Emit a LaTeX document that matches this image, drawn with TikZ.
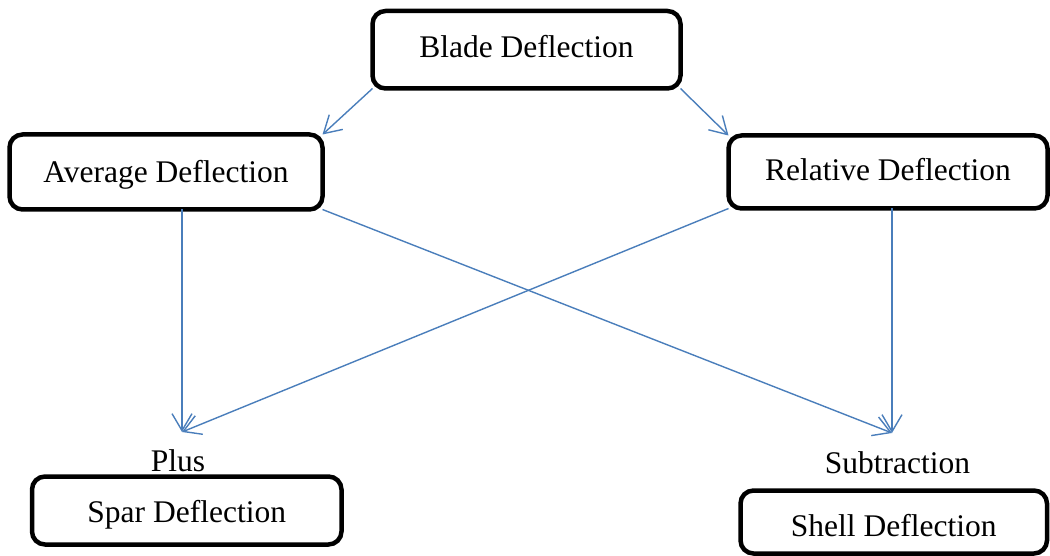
\documentclass[tikz,border=0pt]{standalone}
\usepackage{fontspec}
\setmainfont{Liberation Serif}
\usetikzlibrary{arrows.meta}
\definecolor{linkblue}{HTML}{4A7EBB}
\begin{document}
\begin{tikzpicture}[x=1pt,y=-1pt,
  box/.style={draw=black, line width=4.5pt, rounded corners=13pt,
    inner sep=0pt, outer sep=0pt, text depth=0pt,
    font=\fontsize{31.5}{36}\selectfont},
  optext/.style={inner sep=0pt, anchor=base,
    font=\fontsize{31.5}{36}\selectfont},
  link/.style={draw=linkblue, line width=1.4pt,
    -{Straight Barb[length=17pt,width=20pt,line width=1.4pt]}}]
\useasboundingbox (0,0) rectangle (1050,556);

% deflection boxes (text height sets the baseline below the centre)
\node[box, minimum width=308pt, minimum height=77.5pt, text height=16.5pt] (blade) at (526.5,49.75) {Blade Deflection};
\node[box, minimum width=313pt, minimum height=75pt, text height=22pt] (avg) at (166,172) {Average Deflection};
\node[box, minimum width=319pt, minimum height=73pt, text height=18pt] (rel) at (888,172) {Relative Deflection};
\node[box, minimum width=309.5pt, minimum height=68pt, text height=24pt] (spar) at (186.75,510.5) {Spar Deflection};
\node[box, minimum width=306.5pt, minimum height=63pt, text height=29pt] (shell) at (893.75,522) {Shell Deflection};

% operation labels
\node[optext] (plus) at (178,471) {Plus};
\node[optext] (sub) at (897.5,473) {Subtraction};
\coordinate (pj) at (182,432);
\coordinate (sj) at (892,433);

% connectors
\draw[link] (blade.south west) -- (avg.north east);
\draw[link] (blade.south east) -- (rel.north west);
\draw[link] (avg.south -| pj) -- (pj);
\draw[link] (rel.south west) -- (pj);
\draw[link] (avg.south east) -- (sj);
\draw[link] (rel.south -| sj) -- (sj);
\end{tikzpicture}
\end{document}
